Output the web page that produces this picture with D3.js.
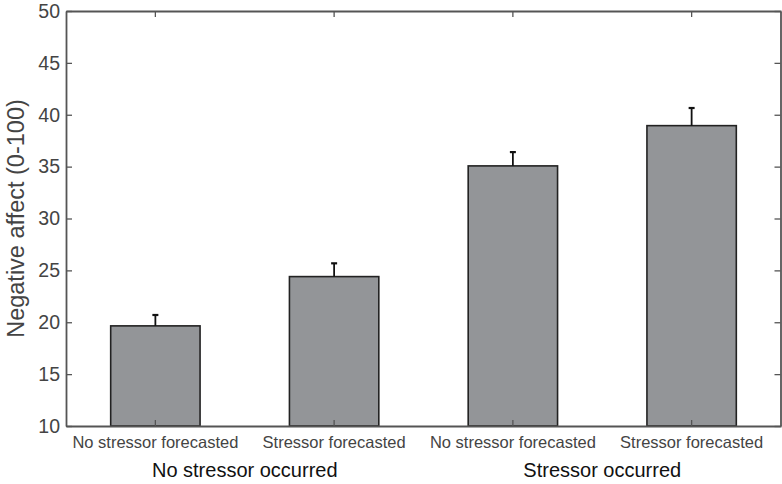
<!DOCTYPE html>
<html>
<head>
<meta charset="utf-8">
<script src="https://cdn.jsdelivr.net/npm/d3@7"></script>
<style>
  body { margin: 0; background: #fff; }
  text { font-family: "Liberation Sans", Arial, sans-serif; }
</style>
</head>
<body>
<svg id="chart" width="782" height="484"></svg>
<script>
const categories = ["No stressor forecasted", "Stressor forecasted", "No stressor forecasted", "Stressor forecasted"];
const groups = ["No stressor occurred", "Stressor occurred"];
const means = [19.65, 24.4, 35.07, 38.95];
const errorTops = [20.7, 25.68, 36.4, 40.65];
const yTicks = [10, 15, 20, 25, 30, 35, 40, 45, 50];
const yTitle = "Negative affect (0-100)";

const W = 782, H = 484;
const m = { left: 66, right: 1, top: 11, bottom: 58 };
const svg = d3.select("#chart");
const x = d3.scaleBand().domain(d3.range(categories.length))
  .range([m.left, W - m.right]).paddingInner(0.5).paddingOuter(0.25);
const y = d3.scaleLinear().domain([10, 50]).range([H - m.bottom, m.top]);

const frame = "#555";
// bars
svg.selectAll("rect.bar").data(means).join("rect")
  .attr("class", "bar")
  .attr("x", (d, i) => x(i)).attr("width", x.bandwidth())
  .attr("y", d => y(d)).attr("height", d => y(10) - y(d))
  .attr("fill", "#939598").attr("stroke", "#222").attr("stroke-width", 1.6);

// error bars
const eb = svg.append("g").attr("stroke", "#111").attr("stroke-width", 1.8);
means.forEach((d, i) => {
  const cx = x(i) + x.bandwidth() / 2;
  eb.append("line").attr("x1", cx).attr("x2", cx).attr("y1", y(d)).attr("y2", y(errorTops[i]));
  eb.append("line").attr("x1", cx - 3).attr("x2", cx + 3).attr("y1", y(errorTops[i])).attr("y2", y(errorTops[i])).attr("stroke-width", 2.2);
});

// axes
const yAxisL = d3.axisLeft(y).tickValues(yTicks).tickSizeInner(-6).tickSizeOuter(0).tickPadding(6);
const gL = svg.append("g").attr("transform", `translate(${m.left},0)`).call(yAxisL);
const yAxisR = d3.axisRight(y).tickValues(yTicks).tickSizeInner(-6).tickSizeOuter(0).tickFormat("");
const gR = svg.append("g").attr("transform", `translate(${W - m.right - 0.5},0)`).call(yAxisR);
const xAxisB = d3.axisBottom(x).tickSizeInner(-6).tickSizeOuter(0).tickPadding(10).tickFormat(i => categories[i]);
const gB = svg.append("g").attr("transform", `translate(0,${H - m.bottom})`).call(xAxisB);
const xAxisT = d3.axisTop(x).tickSizeInner(-6).tickSizeOuter(0).tickFormat("");
const gT = svg.append("g").attr("transform", `translate(0,${m.top})`).call(xAxisT);

[gL, gR, gB, gT].forEach(g => {
  g.select(".domain").attr("stroke", frame).attr("stroke-width", 1.8);
  g.selectAll(".tick line").attr("stroke", frame).attr("stroke-width", 1.3);
});
gL.selectAll(".tick text").attr("font-size", 19.5).attr("fill", "#444")
  .attr("font-family", "Liberation Sans, Arial, sans-serif");
gB.selectAll(".tick text").attr("font-size", 16.5).attr("fill", "#444")
  .attr("font-family", "Liberation Sans, Arial, sans-serif");

// group labels
groups.forEach((g, k) => {
  const cx = (x(2 * k) + x(2 * k + 1) + x.bandwidth()) / 2;
  svg.append("text").attr("x", cx).attr("y", 477).attr("text-anchor", "middle")
    .attr("font-size", 20).attr("fill", "#111").text(g);
});

// y title
svg.append("text").attr("transform", `translate(24,${(m.top + H - m.bottom) / 2}) rotate(-90)`)
  .attr("text-anchor", "middle").attr("font-size", 23.5).attr("fill", "#444").text(yTitle);
</script>
</body>
</html>
